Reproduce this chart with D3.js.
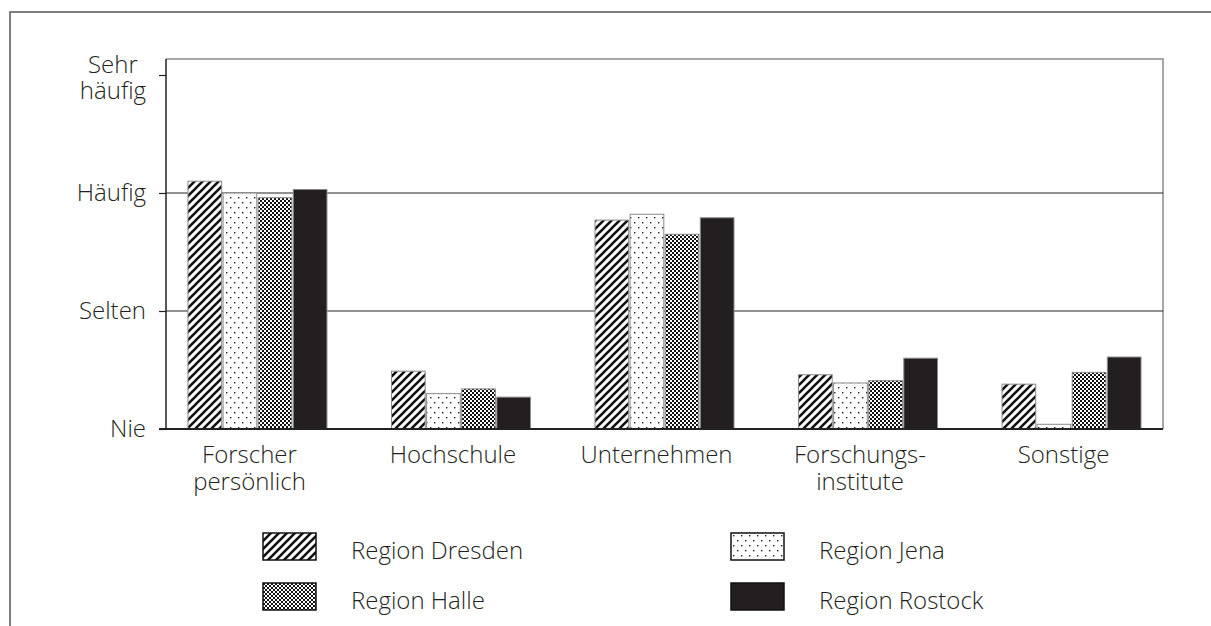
<!DOCTYPE html>
<html lang="de">
<head>
<meta charset="UTF-8">
<title>Kooperationspartner nach Region</title>
<script src="https://cdn.jsdelivr.net/npm/d3@7"></script>
<style>
body { margin: 0; background: #fff; }
svg text { font-family: 'Open Sans', 'Noto Sans', sans-serif; font-weight: 300; fill: #231f20; }
</style>
</head>
<body>
<svg width="1211" height="626"></svg>
<script>
// data (0 = Nie, 1 = Selten, 2 = Häufig, 3 = Sehr häufig)
const categories = [["Forscher", "persönlich"], ["Hochschule"], ["Unternehmen"], ["Forschungs-", "institute"], ["Sonstige"]];
const regions = ["Region Dresden", "Region Jena", "Region Halle", "Region Rostock"];
const dresden = [2.10, 0.49, 1.77, 0.46, 0.38];
const jena    = [2.00, 0.30, 1.82, 0.39, 0.04];
const halle   = [1.96, 0.34, 1.65, 0.41, 0.48];
const rostock = [2.03, 0.27, 1.79, 0.60, 0.61];
const series = [dresden, jena, halle, rostock];
const tickLabels = [["Nie"], ["Selten"], ["Häufig"], ["Sehr", "häufig"]];

const svg = d3.select("svg");
const plotLeft = 166, plotRight = 1163, plotTop = 59, plotBottom = 429;
const fs = 24;

// patterns
const defs = svg.append("defs");
const stripes = defs.append("pattern").attr("id", "p0")
    .attr("patternUnits", "userSpaceOnUse").attr("width", 8).attr("height", 8);
stripes.append("rect").attr("width", 8).attr("height", 8).attr("fill", "#fff");
stripes.append("path").attr("d", "M-2,2 L2,-2 M0,8 L8,0 M6,10 L10,6")
    .attr("stroke", "#111").attr("stroke-width", 2.6);

const dots = defs.append("pattern").attr("id", "p1")
    .attr("patternUnits", "userSpaceOnUse").attr("width", 8).attr("height", 10);
dots.append("rect").attr("width", 8).attr("height", 10).attr("fill", "#fff");
dots.append("rect").attr("x", 2).attr("y", 2).attr("width", 1.4).attr("height", 1.4).attr("fill", "#222");
dots.append("rect").attr("x", 6).attr("y", 7).attr("width", 1.4).attr("height", 1.4).attr("fill", "#222");

const checks = defs.append("pattern").attr("id", "p2")
    .attr("patternUnits", "userSpaceOnUse").attr("width", 4).attr("height", 4);
checks.append("rect").attr("width", 4).attr("height", 4).attr("fill", "#fff");
checks.append("rect").attr("width", 2).attr("height", 2).attr("fill", "#111");
checks.append("rect").attr("x", 2).attr("y", 2).attr("width", 2).attr("height", 2).attr("fill", "#111");

const fills = ["url(#p0)", "url(#p1)", "url(#p2)", "#231f20"];

// outer frame
svg.append("path").attr("d", "M10,640 V12 H1230")
    .attr("fill", "none").attr("stroke", "#555").attr("stroke-width", 1.5);

const y = d3.scaleLinear().domain([0, 3]).range([plotBottom, 75]);
const x0 = d3.scaleBand().domain(d3.range(categories.length)).range([plotLeft, plotRight])
    .paddingInner(0.317).paddingOuter(0.108);
const x1 = d3.scaleBand().domain(d3.range(regions.length)).range([0, x0.bandwidth()])
    .paddingInner(0.04);

// plot frame top / right
svg.append("path").attr("d", `M${plotLeft},${plotTop} H${plotRight} V${plotBottom}`)
    .attr("fill", "none").attr("stroke", "#8a8a8a").attr("stroke-width", 1.5);

// gridlines
svg.selectAll(".grid").data([1, 2]).join("line")
    .attr("x1", plotLeft).attr("x2", plotRight)
    .attr("y1", d => y(d)).attr("y2", d => y(d))
    .attr("stroke", "#222").attr("stroke-width", 1.2);

// bars
svg.append("g").selectAll("g").data(series).join("g")
    .attr("fill", (d, i) => fills[i])
    .selectAll("rect").data((d, i) => d.map((v, c) => ({ v, c, i }))).join("rect")
    .attr("x", d => x0(d.c) + x1(d.i))
    .attr("y", d => y(d.v))
    .attr("width", x1.bandwidth())
    .attr("height", d => y(0) - y(d.v))
    .attr("stroke", "#8a8a8a").attr("stroke-width", 1);

// axes
const yAxis = svg.append("g").attr("transform", `translate(${plotLeft},0)`)
    .call(d3.axisLeft(y).ticks(3).tickSize(7).tickFormat(""));
yAxis.select(".domain").remove();
yAxis.selectAll(".tick line").attr("stroke", "#222").attr("stroke-width", 1.2);
svg.append("line").attr("x1", plotLeft).attr("x2", plotLeft).attr("y1", plotTop).attr("y2", plotBottom)
    .attr("stroke", "#222").attr("stroke-width", 1.5);
svg.append("line").attr("x1", plotLeft - 7).attr("x2", plotRight).attr("y1", plotBottom).attr("y2", plotBottom)
    .attr("stroke", "#222").attr("stroke-width", 1.8);

// y labels
tickLabels.forEach((lines, v) => {
  if (lines.length === 1) {
    svg.append("text").attr("font-size", fs).attr("text-anchor", "end")
      .attr("x", 146).attr("y", y(v) + 8).text(lines[0]);
  } else {
    const w = svg.append("text").attr("font-size", fs).attr("text-anchor", "end")
      .attr("x", 146).attr("y", y(v) + 24).text(lines[1]);
    const len = w.node().getComputedTextLength();
    svg.append("text").attr("font-size", fs).attr("text-anchor", "middle")
      .attr("x", 146 - len / 2).attr("y", y(v) - 2).text(lines[0]);
  }
});

// category labels
categories.forEach((lines, c) => {
  lines.forEach((s, k) => svg.append("text").attr("font-size", fs).attr("text-anchor", "middle")
    .attr("x", x0(c) + x0.bandwidth() / 2 - 8).attr("y", 463 + k * 27).text(s));
});

// legend
const legend = svg.append("g").selectAll("g").data(regions).join("g")
    .attr("transform", (d, i) => `translate(${i % 2 ? 731 : 263},${i < 2 ? 533 : 583})`);
legend.append("rect").attr("width", 53).attr("height", 27)
    .attr("fill", (d, i) => fills[i]).attr("stroke", "#111").attr("stroke-width", 1.5);
legend.append("text").attr("x", 88).attr("y", 26)
    .attr("font-size", fs).text(d => d);
</script>
</body>
</html>
